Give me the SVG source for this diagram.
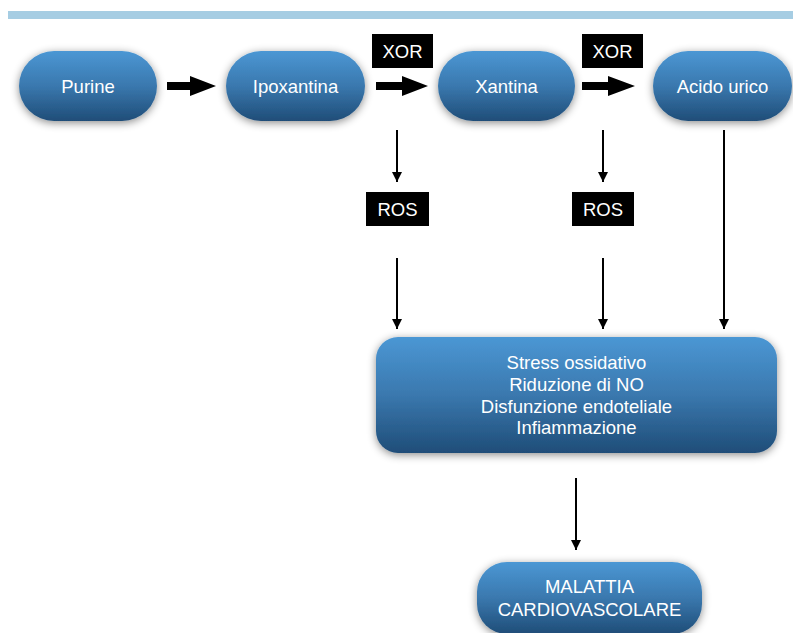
<svg xmlns="http://www.w3.org/2000/svg" width="793" height="633" viewBox="0 0 793 633">
<defs>
<linearGradient id="g" x1="0" y1="0" x2="0" y2="1">
<stop offset="0" stop-color="#4b97d4"/>
<stop offset="0.5" stop-color="#3a78ae"/>
<stop offset="1" stop-color="#1f4d78"/>
</linearGradient>
<filter id="sh" x="-20%" y="-30%" width="140%" height="160%">
<feDropShadow dx="0" dy="2" stdDeviation="4" flood-color="#000" flood-opacity="0.45"/>
</filter>
<marker id="ah" viewBox="0 0 10 10" refX="10" refY="5" markerWidth="5" markerHeight="5" orient="auto" markerUnits="strokeWidth">
<path d="M0,0 L10,5 L0,10 z" fill="#000"/>
</marker>
</defs>
<style>
.n{fill:url(#g);filter:url(#sh)}
.t{font-family:"Liberation Sans",Arial,sans-serif;font-size:18.5px;fill:#fff;text-anchor:middle}
.lb{fill:#000}
.thin{stroke:#000;stroke-width:2;fill:none;marker-end:url(#ah)}
.fat{fill:#000}
</style>
<rect x="8" y="11" width="785" height="8" fill="#a6cde3"/>

<g id="purine"><rect class="n" x="19" y="51" width="138" height="70" rx="35"/><text class="t" x="88" y="93">Purine</text></g>
<g id="ipoxantina"><rect class="n" x="226" y="51" width="139" height="70" rx="35"/><text class="t" x="295.5" y="93">Ipoxantina</text></g>
<g id="xantina"><rect class="n" x="438" y="51" width="137" height="70" rx="35"/><text class="t" x="506.5" y="93">Xantina</text></g>
<g id="acido"><rect class="n" x="653" y="51" width="139" height="70" rx="35"/><text class="t" x="722.5" y="93">Acido urico</text></g>

<g id="xor1"><rect class="lb" x="372" y="34" width="61" height="34"/><text class="t" x="402.5" y="58">XOR</text></g>
<g id="xor2"><rect class="lb" x="582" y="34" width="61" height="34"/><text class="t" x="612.5" y="58">XOR</text></g>
<g id="ros1"><rect class="lb" x="366" y="192" width="63" height="34"/><text class="t" x="397.5" y="216">ROS</text></g>
<g id="ros2"><rect class="lb" x="572" y="192" width="62" height="34"/><text class="t" x="603" y="216">ROS</text></g>

<g id="effects"><rect class="n" x="376" y="337" width="401" height="116" rx="22"/>
<text class="t" x="576.5" y="369">Stress ossidativo</text>
<text class="t" x="576.5" y="391">Riduzione di NO</text>
<text class="t" x="576.5" y="413">Disfunzione endoteliale</text>
<text class="t" x="576.5" y="434">Infiammazione</text></g>

<g id="malattia"><rect class="n" x="477" y="562" width="225" height="72" rx="30"/>
<text class="t" x="589.5" y="593">MALATTIA</text>
<text class="t" x="589.5" y="616">CARDIOVASCOLARE</text></g>

<g id="connectors">
<path class="fat" d="M167,82 H190 V76 L216,86 L190,96 V90 H167 z"/>
<path class="fat" d="M376,82 H402 V76 L428,86 L402,96 V90 H376 z"/>
<path class="fat" d="M582,82 H608 V76 L635,86 L608,96 V90 H582 z"/>
<line class="thin" x1="397" y1="130" x2="397" y2="182"/>
<line class="thin" x1="603" y1="130" x2="603" y2="182"/>
<line class="thin" x1="397" y1="258" x2="397" y2="329"/>
<line class="thin" x1="603" y1="258" x2="603" y2="329"/>
<line class="thin" x1="724" y1="130" x2="724" y2="329"/>
<line class="thin" x1="576" y1="478" x2="576" y2="550"/>
</g>
</svg>
